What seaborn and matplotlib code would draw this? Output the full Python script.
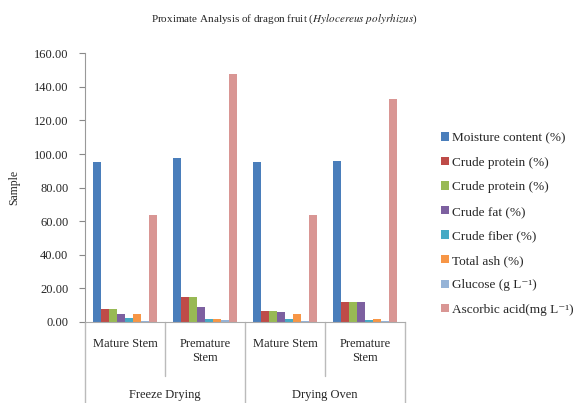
import numpy as np
import pandas as pd
import matplotlib
matplotlib.use("Agg")
import matplotlib.pyplot as plt
import seaborn as sns

samples = ["Mature Stem", "Premature\nStem", "Mature Stem", "Premature\nStem"]
methods = ["Freeze Drying", "Drying Oven"]
components = ["Moisture content (%)", "Crude protein (%)", "Crude protein (%)", "Crude fat (%)",
              "Crude fiber (%)", "Total ash (%)", "Glucose (g L\u207b\u00b9)", "Ascorbic acid(mg L\u207b\u00b9)"]
moisture = [95.5, 97.5, 95.5, 96.0]
protein_a = [7.5, 15.0, 6.5, 12.0]
protein_b = [7.5, 15.0, 6.5, 12.0]
fat = [4.5, 9.0, 6.0, 11.8]
fiber = [2.5, 1.5, 2.0, 1.0]
ash = [4.5, 2.0, 4.5, 1.5]
glucose = [0.5, 1.0, 0.5, 0.5]
ascorbic = [64.0, 147.5, 63.5, 132.5]
colors = ["#4A7EBB", "#BE4B48", "#98B954", "#7D60A0", "#46AAC5", "#F79646", "#95B3D7", "#D99694"]

series = [moisture, protein_a, protein_b, fat, fiber, ash, glucose, ascorbic]
rows = []
for k, vals in enumerate(series):
    for i, val in enumerate(vals):
        rows.append({"pos": i, "comp": "c%d" % k, "value": val})
df = pd.DataFrame(rows)

sns.set_style("white")
plt.rcParams['font.family'] = ['Liberation Serif', 'DejaVu Serif']
plt.rcParams['mathtext.fontset'] = 'stix'

fig = plt.figure(figsize=(5.8, 4.03), dpi=100)
ax = fig.add_axes([0.1466, 0.201, 0.5517, 0.6667])
sns.barplot(data=df, x="pos", y="value", hue="comp", palette=colors, width=0.8,
            gap=0.05, ax=ax, saturation=1, linewidth=0)
ax.set_ylim(0, 160)
ax.set_yticks(np.arange(0, 161, 20))
ax.set_yticklabels(["%.2f" % t for t in np.arange(0, 161, 20)], fontsize=9)
ax.tick_params(axis="y", length=4, color="#888888", direction="out", left=True, pad=8)
ax.set_xticks([])
ax.set_xlabel("")
ax.set_ylabel("Sample", fontsize=8.5, labelpad=10)
for s in ["top", "right"]:
    ax.spines[s].set_visible(False)
ax.spines["left"].set_color("#999999")
ax.spines["bottom"].set_color("#aaaaaa")

# hierarchical category axis
tr = ax.get_xaxis_transform()
for i, name in enumerate(samples):
    ax.text(i, -0.06, name, transform=tr, ha="center", va="top", fontsize=9, linespacing=1.2)
for j, name in enumerate(methods):
    ax.text(2 * j + 0.5, -0.25, name, transform=tr, ha="center", va="top", fontsize=9)
for x in [0.5, 2.5]:
    ax.plot([x, x], [0, -0.2], transform=tr, color="#bbbbbb", lw=1, clip_on=False)
for x in [-0.5, 1.5, 3.5]:
    ax.plot([x, x], [0, -0.31], transform=tr, color="#bbbbbb", lw=1, clip_on=False)
ax.set_xlim(-0.5, 3.5)

handles, _ = ax.get_legend_handles_labels()
ax.legend(handles, components, loc="center left", bbox_to_anchor=(0.74, 0.444),
          bbox_transform=fig.transFigure, frameon=False, fontsize=9.5,
          handlelength=0.6, handleheight=0.6, handletextpad=0.2, labelspacing=0.95)

fig.text(0.49, 0.953, "Proximate Analysis of dragon fruit ($\\mathit{Hylocereus\\ polyrhizus}$)",
         ha="center", va="center", fontsize=8)

fig.savefig("out.png", dpi=100)
